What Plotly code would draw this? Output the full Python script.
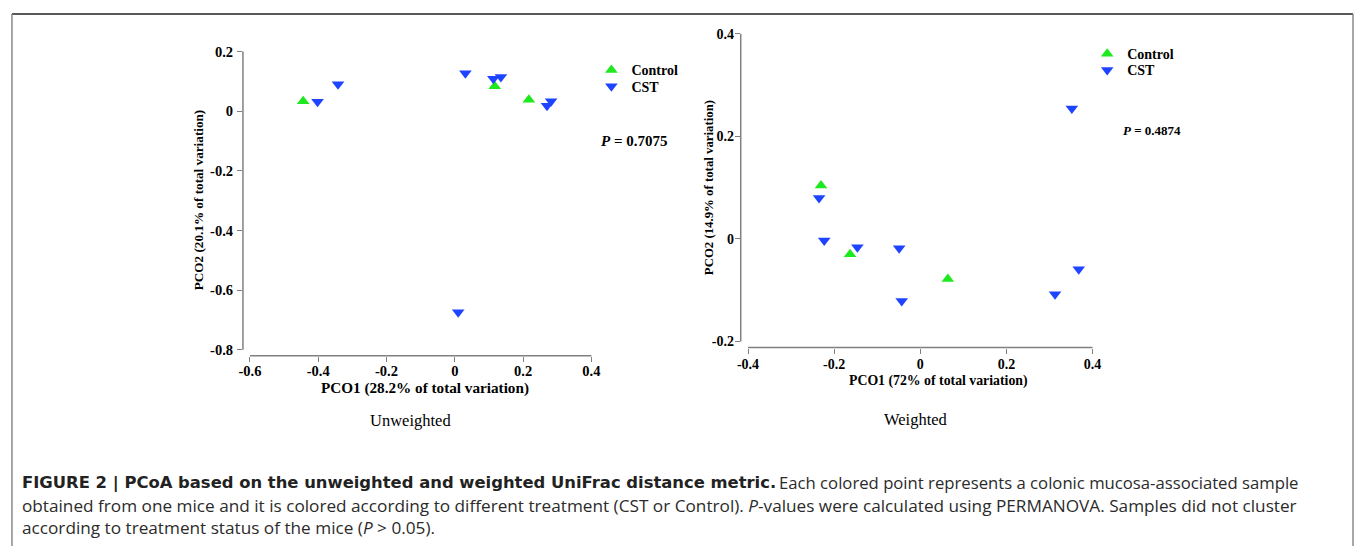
import plotly.graph_objects as go

W, H = 1357, 546

# ---------------- data ----------------
uw_control_x = [-0.444, 0.117, 0.217]
uw_control_y = [0.033, 0.084, 0.038]
uw_cst_x = [-0.402, -0.342, 0.031, 0.113, 0.135, 0.270, 0.282, 0.010]
uw_cst_y = [0.032, 0.090, 0.127, 0.109, 0.115, 0.018, 0.033, -0.674]

w_control_x = [-0.2305, -0.163, 0.064]
w_control_y = [0.104, -0.030, -0.078]
w_cst_x = [-0.235, -0.223, -0.146, -0.049, -0.043, 0.313, 0.368, 0.352]
w_cst_y = [0.080, -0.003, -0.016, -0.018, -0.121, -0.108, -0.059, 0.254]

uw_xticks = [-0.6, -0.4, -0.2, 0, 0.2, 0.4]
uw_xtext = ["-0.6", "-0.4", "-0.2", "0", "0.2", "0.4"]
uw_yticks = [-0.8, -0.6, -0.4, -0.2, 0, 0.2]
uw_ytext = ["-0.8", "-0.6", "-0.4", "-0.2", "0", "0.2"]
w_xticks = [-0.4, -0.2, 0, 0.2, 0.4]
w_xtext = ["-0.4", "-0.2", "0", "0.2", "0.4"]
w_yticks = [-0.2, 0, 0.2, 0.4]
w_ytext = ["-0.2", "0", "0.2", "0.4"]

uw_p = "0.7075"
w_p = "0.4874"

GREEN = "#1ee81e"
BLUE = "#1f44ff"
AXC = "#808080"
SERIF = "Liberation Serif, Times New Roman, serif"
SANS = "Open Sans, Liberation Sans, Arial, sans-serif"
SANS_B = "DejaVu Sans, Open Sans, sans-serif"


def px(x):
    return x / W


def py(y):
    return 1 - y / H


fig = go.Figure()

traces = [
    ("Control", uw_control_x, uw_control_y, "triangle-up", GREEN, "x", "y", "legend"),
    ("CST", uw_cst_x, uw_cst_y, "triangle-down", BLUE, "x", "y", "legend2"),
    ("Control", w_control_x, w_control_y, "triangle-up", GREEN, "x2", "y2", "legend3"),
    ("CST", w_cst_x, w_cst_y, "triangle-down", BLUE, "x2", "y2", "legend4"),
]
for name, xs, ys, sym, col, xa, ya, lg in traces:
    fig.add_trace(go.Scatter(
        x=xs, y=ys, mode="markers", name=name,
        marker=dict(symbol=sym, size=11, color=col, line=dict(width=0)),
        xaxis=xa, yaxis=ya, legend=lg, showlegend=True,
    ))

tick_font_l = dict(family=SERIF, size=14.5, color="black", weight="bold")
tick_font_r = dict(family=SERIF, size=14, color="black", weight="bold")

common = dict(showgrid=False, zeroline=False, showline=False, ticks="outside",
              ticklen=5, tickwidth=1.3, tickcolor=AXC)

fig.update_layout(
    width=W, height=H,
    margin=dict(l=0, r=0, t=0, b=0),
    paper_bgcolor="white", plot_bgcolor="white",
    xaxis=dict(domain=[px(240), px(597)], range=[-0.6204, 0.4204], anchor="y",
               tickvals=uw_xticks, ticktext=uw_xtext, tickfont=tick_font_l,
               ticklabelstandoff=-3, **common),
    yaxis=dict(domain=[py(356), py(44)], range=[-0.8199, 0.2166], anchor="x",
               tickvals=uw_yticks, ticktext=uw_ytext, tickfont=tick_font_l,
               ticklabelstandoff=1, **common),
    xaxis2=dict(domain=[px(740), px(1102)], range=[-0.4169, 0.42], anchor="y2",
                tickvals=w_xticks, ticktext=w_xtext, tickfont=tick_font_r,
                ticklabelstandoff=-1, **common),
    yaxis2=dict(domain=[py(347.7), py(25.8)], range=[-0.2116, 0.41], anchor="x2",
                tickvals=w_yticks, ticktext=w_ytext, tickfont=tick_font_r,
                ticklabelstandoff=-2, **common),
    showlegend=True,
)

leg_font = dict(family=SERIF, size=14, color="black", weight="bold")
leg_common = dict(xanchor="left", yanchor="middle", bgcolor="rgba(0,0,0,0)",
                  borderwidth=0, font=leg_font, itemwidth=30)
fig.update_layout(
    legend=dict(x=px(590), y=py(68), **leg_common),
    legend2=dict(x=px(590), y=py(84.5), **leg_common),
    legend3=dict(x=px(1088), y=py(51.5), **leg_common),
    legend4=dict(x=px(1088), y=py(68), **leg_common),
)

# axis lines (offset style)
shapes = [
    dict(type="line", xref="x domain", yref="y", x0=0, x1=0, y0=-0.8, y1=0.2,
         line=dict(color=AXC, width=1.5)),
    dict(type="line", xref="x", yref="y domain", x0=-0.6, x1=0.4, y0=0, y1=0,
         line=dict(color=AXC, width=1.5)),
    dict(type="line", xref="x2 domain", yref="y2", x0=0, x1=0, y0=-0.2, y1=0.4,
         line=dict(color=AXC, width=1.5)),
    dict(type="line", xref="x2", yref="y2 domain", x0=-0.4, x1=0.4, y0=0, y1=0,
         line=dict(color=AXC, width=1.5)),
    # figure frame
    dict(type="line", xref="paper", yref="paper", x0=px(8), x1=px(1355), y0=py(11), y1=py(11),
         line=dict(color="#222222", width=1.5)),
    dict(type="line", xref="paper", yref="paper", x0=px(8), x1=px(8), y0=py(11), y1=py(560),
         line=dict(color="#8a8a8a", width=1.5)),
    dict(type="line", xref="paper", yref="paper", x0=px(1355), x1=px(1355), y0=py(11), y1=py(560),
         line=dict(color="#8a8a8a", width=1.5)),
]
fig.update_layout(shapes=shapes)

ann = []


def A(text, x, y, size, xanchor="center", angle=0, family=SERIF, weight="normal", color="black"):
    ann.append(dict(text=text, x=px(x), y=py(y), xref="paper", yref="paper",
                    xanchor=xanchor, yanchor="middle", showarrow=False, textangle=angle,
                    font=dict(family=family, size=size, color=color, weight=weight)))


A("PCO1 (28.2% of total variation)", 423, 389, 15.2, weight="bold")
A("PCO2 (20.1% of total variation)", 195, 199, 13.2, angle=-90, weight="bold")
A("PCO1 (72% of total variation)", 939, 381, 13.8, weight="bold")
A("PCO2 (14.9% of total variation)", 708, 186, 12.8, angle=-90, weight="bold")
A("<i>P</i> = " + uw_p, 598, 139, 15, xanchor="left", weight="bold")
A("<i>P</i> = " + w_p, 1122, 129, 13, xanchor="left", weight="bold")
A("Unweighted", 408, 421, 16.5)
A("Weighted", 916, 420, 16.5)

CAP = "#2b2b2b"
A("FIGURE 2 | PCoA based on the unweighted and weighted UniFrac distance metric.",
  16, 484, 16.4, xanchor="left", family=SANS_B, weight="bold", color="#222222")
A("Each colored point represents a colonic mucosa-associated sample",
  776, 484, 16.7, xanchor="left", family=SANS, color=CAP)
A("obtained from one mice and it is colored according to different treatment (CST or Control). "
  "<i>P</i>-values were calculated using PERMANOVA. Samples did not cluster",
  16, 507, 17.2, xanchor="left", family=SANS, color=CAP)
A("according to treatment status of the mice (<i>P</i> &gt; 0.05).",
  16, 529, 17.2, xanchor="left", family=SANS, color=CAP)

fig.update_layout(annotations=ann)

fig.write_html("out.html", config={"displayModeBar": False},
               post_script="document.body.style.margin='0';")
